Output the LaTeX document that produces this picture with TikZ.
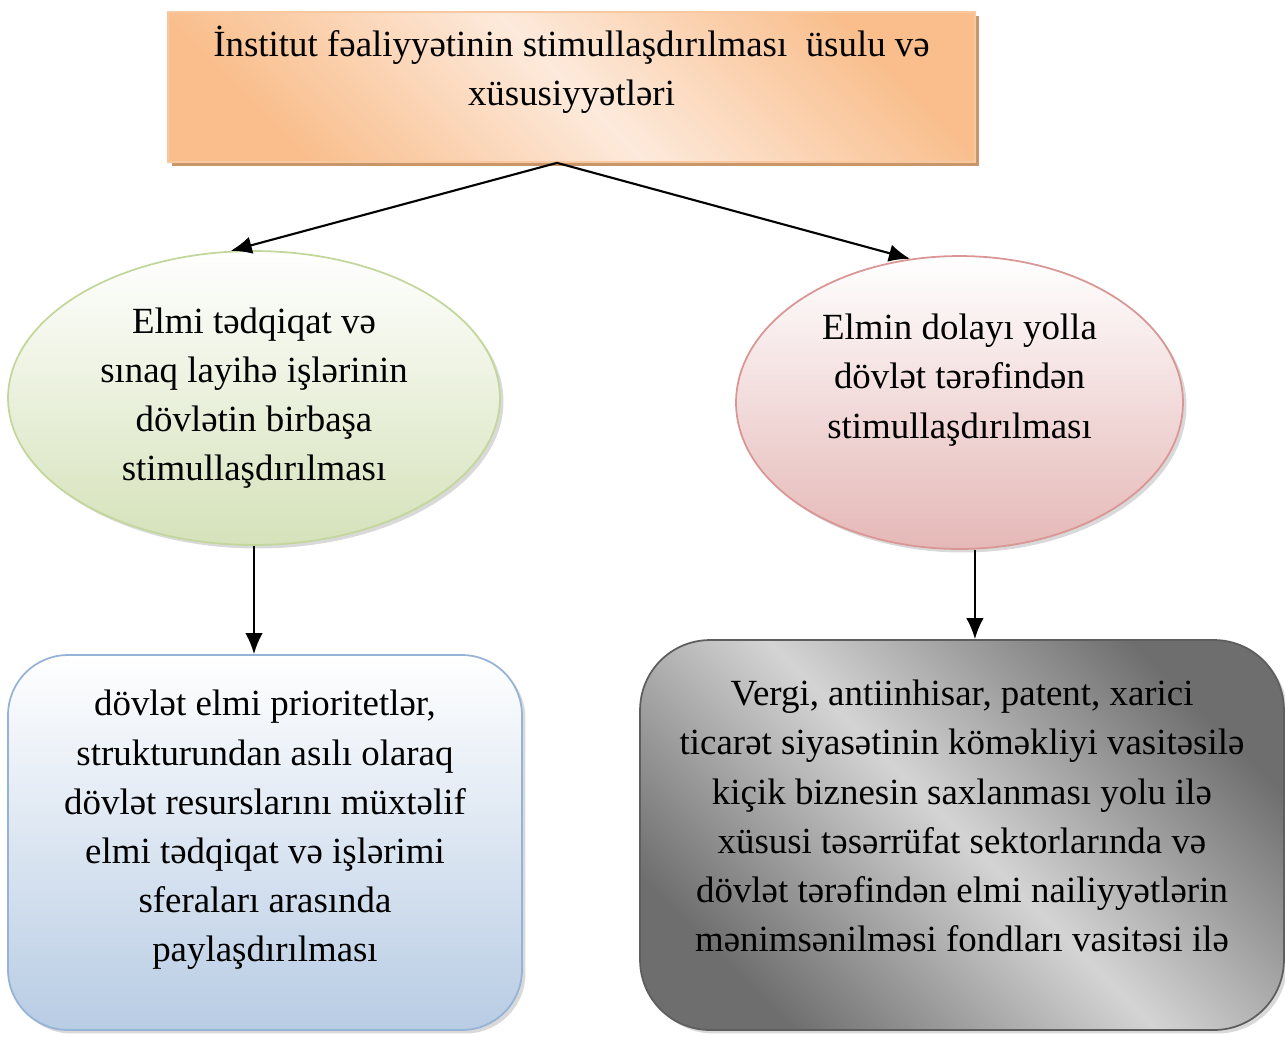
\documentclass[tikz,border=0pt]{standalone}
\usepackage{fontspec}
\setmainfont{Liberation Serif}
\usetikzlibrary{shapes.geometric,shadows,arrows.meta}
\definecolor{peach}{HTML}{F9BE8C}
\definecolor{peachlight}{HTML}{FDEADC}
\definecolor{peachline}{HTML}{F8C8A0}
\definecolor{peachshadow}{HTML}{C9966A}
\definecolor{leaf}{HTML}{D5E2BA}
\definecolor{leafline}{HTML}{C3D69B}
\definecolor{rose}{HTML}{E5B8B7}
\definecolor{roseline}{HTML}{D99694}
\definecolor{sky}{HTML}{B8CCE4}
\definecolor{skyline}{HTML}{95B3D7}
\definecolor{steel}{HTML}{6E6E6E}
\definecolor{steellight}{HTML}{D4D4D4}
\definecolor{steelline}{HTML}{5E5E5E}

\begin{document}
\begin{tikzpicture}[x=0.02cm,y=-0.02cm,
  boxtext/.style={align=center,font=\fontsize{21}{28}\selectfont},
  link/.style={-{Latex[length=12pt,width=10pt]},line width=1.2pt},
  softshadow/.style={drop shadow={shadow xshift=2pt,shadow yshift=-2pt,opacity=0.3}}]
\useasboundingbox (0,0) rectangle (1285,1036);

% title
\node[draw=peachline,line width=1pt,top color=peach,bottom color=peach,middle color=peachlight,shading angle=-45,
  minimum width=16.14cm,minimum height=3cm,inner sep=0pt,
  drop shadow={shadow xshift=2.5pt,shadow yshift=-2.5pt,fill=peachshadow,opacity=1}] (titlebox) at (571.5,87) {};
\node[boxtext] (titletext) at ([yshift=3.4mm]titlebox.center) {İnstitut fəaliyyətinin stimullaşdırılması~ üsulu və\\xüsusiyyətləri};

% ovals
\node[ellipse,draw=leafline,line width=1pt,top color=white,bottom color=leaf,softshadow,
  minimum width=9.84cm,minimum height=5.88cm,inner sep=0pt] (leftoval) at (254,398) {};
\node[boxtext] (lefttext) at (leftoval.center) {Elmi tədqiqat və\\sınaq layihə işlərinin\\dövlətin birbaşa\\stimullaşdırılması};

\node[ellipse,draw=roseline,line width=1pt,top color=white,bottom color=rose,softshadow,
  minimum width=8.94cm,minimum height=5.86cm,inner sep=0pt] (rightoval) at (959.5,402.5) {};
\node[boxtext] (righttext) at ([yshift=4.5mm]rightoval.center) {Elmin dolayı yolla\\dövlət tərəfindən\\stimullaşdırılması};

% bottom boxes
\node[draw=skyline,line width=1pt,rounded corners=1.2cm,top color=white,bottom color=sky,softshadow,
  minimum width=10.28cm,minimum height=7.5cm,inner sep=0pt] (leftbox) at (265,842.5) {};
\node[boxtext] (leftboxtext) at ([yshift=2.5mm]leftbox.center) {dövlət elmi prioritetlər,\\strukturundan asılı olaraq\\dövlət resurslarını müxtəlif\\elmi tədqiqat və işlərimi\\sferaları arasında\\paylaşdırılması};

\node[draw=steelline,line width=1pt,rounded corners=1.4cm,top color=steel,bottom color=steel,middle color=steellight,shading angle=-45,softshadow,
  minimum width=12.88cm,minimum height=7.8cm,inner sep=0pt] (rightbox) at (962,835) {};
\node[boxtext] (rightboxtext) at ([yshift=3.8mm]rightbox.center) {Vergi, antiinhisar, patent, xarici\\ticarət siyasətinin köməkliyi vasitəsilə\\kiçik biznesin saxlanması yolu ilə\\xüsusi təsərrüfat sektorlarında və\\dövlət tərəfindən elmi nailiyyətlərin\\mənimsənilməsi fondları vasitəsi ilə};

% arrows
\coordinate (fork) at ([xshift=-2.9mm]titlebox.south);
\draw[link] (fork) -- (leftoval.99);
\draw[link] (fork) -- (rightoval.109);
\draw[link] (leftoval.south) -- (leftoval.south |- leftbox.north);
\draw[link] (rightoval.-84) -- (rightoval.-84 |- rightbox.north);
\end{tikzpicture}
\end{document}
